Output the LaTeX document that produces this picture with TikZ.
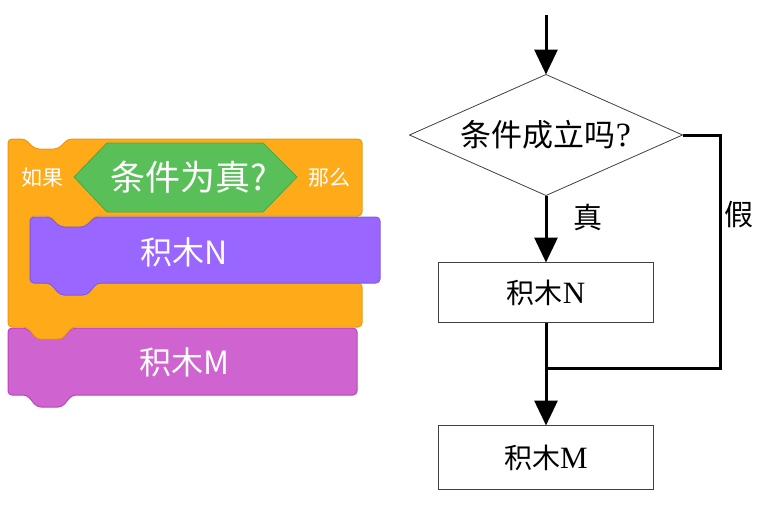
\documentclass[tikz,border=0pt]{standalone}
\usepackage{fontspec}
\setmainfont{Liberation Serif}
\newfontfamily\cjk{Noto Sans CJK SC}
\usetikzlibrary{positioning,arrows.meta,shapes.geometric}
\definecolor{ctrlorange}{HTML}{FFAB19}
\definecolor{ctrledge}{HTML}{E59A17}
\definecolor{opgreen}{HTML}{59C059}
\definecolor{opedge}{HTML}{46A946}
\definecolor{lookspurple}{HTML}{9966FF}
\definecolor{looksedge}{HTML}{855CD6}
\definecolor{soundpink}{HTML}{CF63CF}
\definecolor{soundedge}{HTML}{BD42BD}

\begin{document}
\begin{tikzpicture}[
  x=1pt, y=-1pt, >={Triangle[width=23pt,length=25pt]},
  block/.style={line width=1pt, rounded corners=4pt, line join=round},
  blocktext/.style={text=white, font=\cjk\fontsize{32}{32}\selectfont, inner sep=0},
  wordtext/.style={text=white, font=\cjk\fontsize{21}{21}\selectfont, inner sep=0},
  flowbox/.style={draw=black!75, line width=0.8pt, minimum width=215pt, inner sep=0, outer sep=0, font=\fontsize{31}{31}\selectfont},
  decision/.style={diamond, aspect=2.26, draw=black!75, line width=0.8pt, minimum width=273pt, minimum height=121pt, inner sep=0, outer sep=0, font=\fontsize{34}{34}\selectfont},
  flow/.style={line width=3pt, ->},
  line/.style={line width=3pt},
  flowlabel/.style={font=\cjk\fontsize{29}{29}\selectfont, inner sep=0},
]
\useasboundingbox (0,0) rectangle (763,504);

% scratch blocks
\draw[block, fill=soundpink, draw=soundedge] (8,328) -- (27,328) -- (37,339) -- (62,339) -- (72,328) -- (357,328)
  -- (357,395) -- (72,395) -- (62,407) -- (37,407) -- (27,395) -- (8,395) -- cycle;
\draw[block, fill=ctrlorange, draw=ctrledge] (8,139) -- (25,139) -- (35,149) -- (58,149) -- (68,139) -- (362,139)
  -- (362,216) -- (95,216) -- (85,227) -- (60,227) -- (50,216) -- (30,216) -- (30,283) -- (362,283)
  -- (362,327) -- (72,327) -- (62,339) -- (37,339) -- (27,327) -- (8,327) -- cycle;
\draw[block, fill=lookspurple, draw=looksedge] (30,217) -- (50,217) -- (60,227) -- (85,227) -- (95,217) -- (380,217)
  -- (380,283) -- (97,283) -- (87,295) -- (60,295) -- (50,283) -- (30,283) -- cycle;
\draw[line width=0.8pt, fill=opgreen, draw=opedge, line join=round] (74,177) -- (107,143) -- (263,143) -- (297,177)
  -- (263,212) -- (107,212) -- cycle;

\node[wordtext] (ifword) at (42,178) {如果};
\node[wordtext] (thenword) at (329,178) {那么};
\node[blocktext, font=\cjk\fontsize{35}{35}\selectfont] (condtext) at (189,177) {条件为真?};
\node[blocktext] (ntext) at (184,252) {积木N};
\node[blocktext] (mtext) at (184,362) {积木M};

% flowchart
\coordinate (start) at (546,15);
\node[decision] (cond) at (546,135) {{\cjk\fontsize{31}{31}\selectfont 条件成立吗}?};
\node[flowbox, minimum height=60pt, below=67pt of cond] (boxN) {{\cjk\fontsize{28}{28}\selectfont 积木}N};
\node[flowbox, minimum height=64pt, below=103pt of boxN] (boxM) {{\cjk\fontsize{28}{28}\selectfont 积木}M};
\coordinate (join) at (546,368);
\coordinate (fr) at (720,368);

\draw[flow] (start) -- (cond.north);
\draw[flow] (cond.south) -- node[flowlabel, pos=0.33, right=26pt] (truelbl) {真} (boxN.north);
\draw[flow] (boxN.south) -- (boxM.north);
\draw[line, line join=miter] (cond.east) -| (fr) -- (join);
\node[flowlabel] (falselbl) at (739,215) {假};
\end{tikzpicture}
\end{document}
